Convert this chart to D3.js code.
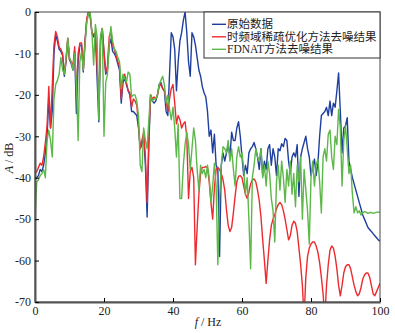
<!DOCTYPE html>
<html>
<head>
<meta charset="utf-8">
<script src="https://cdn.jsdelivr.net/npm/d3@7"></script>
<style>
  body { margin: 0; background: #fff; }
  svg { display: block; }
</style>
</head>
<body>
<svg id="chart"></svg>
<script>
// Spectrum samples every 0.5 Hz, 0..100 Hz.
const freqStep = 0.5;

const original = [
  -40.5, -40, -39.5, -38, -38.5, -37, -34, -30, -21, -28,
  -24, -10, -5.5, -7, -9, -9.5, -10.5, -15.5, -12, -6.5,
  -11.5, -12.5, -14, -9.5, -24.5, -12, -8, -8, -14.5, -7,
  -2, 0, -1, -5, -6, -5, -16, -26.5, -7, -4,
  -10, -15, -14, -8, -6.5, -9.5, -10, -11, -12.5, -14,
  -22, -17, -16, -17.5, -19, -20, -24, -24, -24.5, -25,
  -28, -33, -32, -30, -37, -49.5, -32, -20, -21.5, -22,
  -21.5, -20, -17.5, -17, -18.5, -19, -24, -25, -15, -5,
  -6, -9, -19, -12, -7, -5, -2, 0, -5, -12,
  -15.5, -5, -6, -8, -11, -14, -15.5, -18, -19.5, -20.5,
  -24, -30, -28.5, -34, -29.5, -37, -38, -59, -37, -34,
  -36, -34, -32, -35, -29, -31, -31, -28, -26.5, -30,
  -35, -39.5, -37, -39, -34, -33, -32.5, -31.5, -33, -35,
  -38, -33, -39.5, -36, -38, -33, -32, -37, -33, -35,
  -39.5, -33, -33.5, -31.8, -32.5, -30.5, -31, -36, -39, -35,
  -34, -35, -32, -44.5, -35, -33, -31.5, -30, -33, -35,
  -39.5, -37.5, -35.5, -39.5, -36.5, -30, -25, -24.5, -24, -23,
  -25, -21.5, -25, -22, -23, -19, -14.7, -24, -34, -28,
  -27.5, -25.5, -36, -38, -40, -41.5, -43, -44.5, -46, -47.5,
  -49, -50, -51, -52, -52.5, -53, -53.5, -54, -54.5, -55,
  -55.3
];

const sparseDenoised = [
  -39, -38.5, -37.5, -36.5, -37, -35, -31.5, -27.5, -18, -28,
  -18, -8, -4.7, -6, -8.5, -9, -10, -15, -11.5, -6.3,
  -11.5, -12, -13, -8.4, -20.4, -10, -7.5, -7.5, -14, -7,
  -1.5, 0, -1, -5, -5.5, -5, -13, -21.5, -6.5, -4,
  -9.5, -14.5, -13, -6, -4.5, -8, -9, -10.5, -12, -13,
  -21, -16, -15, -17, -19, -19.5, -23, -21, -21.5, -22.5,
  -27, -33, -31, -29, -35, -46, -30, -20, -21, -20.5,
  -21, -20, -18, -17.5, -18.5, -19, -21, -24, -21, -18.5,
  -17.5, -22, -27, -25, -26, -28, -27, -26.5, -30, -45,
  -38.5, -37.5, -40, -61, -52, -44, -39, -37.5, -37.5, -37.3,
  -37.7, -41, -46, -50, -42.5, -38, -37.5, -38, -39, -40.5,
  -43, -47.8, -51.5, -53, -52, -48.5, -44.5, -41, -39.7, -39.5,
  -40, -42, -44, -45, -43.5, -41.5, -40.5, -40.3, -41, -43,
  -45.5, -49.5, -55, -60, -65.5, -60, -55, -51.5, -50, -49,
  -47.5, -46.5, -46, -46.5, -48, -50, -52.5, -55, -54, -51.5,
  -50.5, -51, -53, -57, -61, -66, -74, -64, -59, -57,
  -56, -55.5, -55.5, -56.5, -58, -60.5, -64, -68, -74, -66,
  -61, -57.5, -56.5, -57, -59, -62, -66, -68.5, -66, -63,
  -61.5, -61, -61, -62, -64, -66, -67.5, -68.5, -68, -66.5,
  -64.5, -63.5, -63, -63, -64, -66, -68, -68.5, -67.5, -66.5,
  -65.5
];

const fdnatDenoised = [
  -50, -41, -40.5, -39.5, -39, -38, -40, -31, -28.5, -31,
  -35, -21, -17.5, -16.5, -15, -11, -14, -15, -11, -6.3,
  -11, -12, -14, -10, -17, -31, -12, -9.5, -14, -8,
  -2.5, -0.5, 0, -5, -12.8, -3, -6, -26, -5.5, -4,
  -30, -17, -15, -8, -3.5, -7, -9, -9.5, -11, -12,
  -18.5, -15, -16, -17, -14.5, -15, -20.5, -20, -20, -21.5,
  -25, -37, -38.5, -28, -31, -33, -26, -20, -21.5, -21,
  -21, -20, -17.5, -16.5, -15.5, -17.5, -22, -20, -23.5, -26,
  -23, -28, -35, -27, -45, -45, -37, -32, -29, -32,
  -38, -33, -28, -31, -38, -43, -37, -39, -38, -40,
  -37, -40, -46, -42, -36.5, -42, -61, -45, -37, -32.5,
  -33, -34, -31, -36, -33, -38, -42, -35, -32.5, -35,
  -34, -38, -44, -40, -50, -62, -40, -37, -33, -35,
  -36, -33, -40, -37, -42, -36, -39, -45, -48, -55.5,
  -41, -37, -43, -36, -40, -46, -38, -42, -36, -44,
  -39, -47, -37, -41, -35, -50, -38, -43, -48, -56,
  -40, -36, -42, -37, -35.5, -41, -48.5, -35, -33, -36,
  -29.5, -28.5, -35, -38, -30, -32, -23.5, -28, -42, -31,
  -27.5, -33, -39, -37, -44, -48.5, -47, -48.5, -48, -49,
  -48.5, -48.2, -48.3, -48.6, -48.4, -48.4, -48.6, -48.5, -48.3, -48.3,
  -48.3
];

const seriesNames = ['原始数据', '时频域稀疏优化方法去噪结果', 'FDNAT方法去噪结果'];
const seriesColors = ['#1f3f9f', '#ee2a2e', '#5cb848'];
const xTicks = [0, 20, 40, 60, 80, 100];
const yTicks = [0, -10, -20, -30, -40, -50, -60, -70];

const width = 395;
const height = 333;
const margin = {left: 35, right: 15, top: 12, bottom: 31};
const serif = "'Liberation Serif', 'Times New Roman', 'Noto Sans CJK SC', serif";

const svg = d3.select('#chart')
  .attr('width', width)
  .attr('height', height);

const xScale = d3.scaleLinear().domain([0, 100]).range([margin.left, width - margin.right]);
const yScale = d3.scaleLinear().domain([-70, 0]).range([height - margin.bottom, margin.top]);

svg.append('clipPath')
  .attr('id', 'plot-clip')
  .append('rect')
    .attr('x', margin.left)
    .attr('y', margin.top)
    .attr('width', width - margin.left - margin.right)
    .attr('height', height - margin.top - margin.bottom);

const line = d3.line()
  .x((d, i) => xScale(i * freqStep))
  .y(d => yScale(d));

[original, sparseDenoised, fdnatDenoised].forEach((values, i) => {
  svg.append('path')
    .attr('clip-path', 'url(#plot-clip)')
    .attr('fill', 'none')
    .attr('stroke', seriesColors[i])
    .attr('stroke-width', 1.4)
    .attr('stroke-linejoin', 'round')
    .attr('d', line(values));
});

// Frame round the plot area
svg.append('rect')
  .attr('x', margin.left)
  .attr('y', margin.top)
  .attr('width', width - margin.left - margin.right)
  .attr('height', height - margin.top - margin.bottom)
  .attr('fill', 'none')
  .attr('stroke', '#444')
  .attr('stroke-width', 1);

const xAxis = d3.axisBottom(xScale)
  .tickValues(xTicks)
  .tickSizeInner(-4)
  .tickSizeOuter(0)
  .tickPadding(4);

const yAxis = d3.axisLeft(yScale)
  .tickValues(yTicks)
  .tickFormat(d => String(d))
  .tickSizeInner(-4)
  .tickSizeOuter(0)
  .tickPadding(4);

svg.append('g')
  .attr('transform', `translate(0,${height - margin.bottom})`)
  .call(xAxis)
  .call(g => g.select('.domain').attr('stroke', '#555').attr('stroke-width', 2))
  .call(g => g.selectAll('text').attr('font-family', serif).attr('font-size', 12).attr('fill', '#222'));

svg.append('g')
  .attr('transform', `translate(${margin.left},0)`)
  .call(yAxis)
  .call(g => g.select('.domain').attr('stroke', '#555').attr('stroke-width', 2))
  .call(g => g.selectAll('text').attr('font-family', serif).attr('font-size', 12).attr('fill', '#222'));

// Axis titles
const yTitle = svg.append('text')
  .attr('transform', `translate(13,${(margin.top + height - margin.bottom) / 2 + 1}) rotate(-90)`)
  .attr('text-anchor', 'middle')
  .attr('font-family', serif)
  .attr('font-size', 12)
  .attr('fill', '#222');
yTitle.append('tspan').attr('font-style', 'italic').text('A');
yTitle.append('tspan').text(' / dB');

const xTitle = svg.append('text')
  .attr('x', 208)
  .attr('y', 326)
  .attr('text-anchor', 'middle')
  .attr('font-family', serif)
  .attr('font-size', 12)
  .attr('fill', '#222');
xTitle.append('tspan').attr('font-style', 'italic').text('f');
xTitle.append('tspan').text(' / Hz');

// Legend
const legend = svg.append('g').attr('transform', 'translate(204,12)');
legend.append('rect')
  .attr('width', 176)
  .attr('height', 46)
  .attr('fill', '#fff')
  .attr('stroke', '#333')
  .attr('stroke-width', 1);

seriesNames.forEach((name, i) => {
  const y = 12.3 + i * 12.5;
  legend.append('line')
    .attr('x1', 8)
    .attr('x2', 22)
    .attr('y1', y)
    .attr('y2', y)
    .attr('stroke', seriesColors[i])
    .attr('stroke-width', 1.4);
  legend.append('text')
    .attr('x', 23)
    .attr('y', y + 4)
    .attr('font-family', serif)
    .attr('font-size', 11.5)
    .attr('fill', '#222')
    .text(name);
});
</script>
</body>
</html>
